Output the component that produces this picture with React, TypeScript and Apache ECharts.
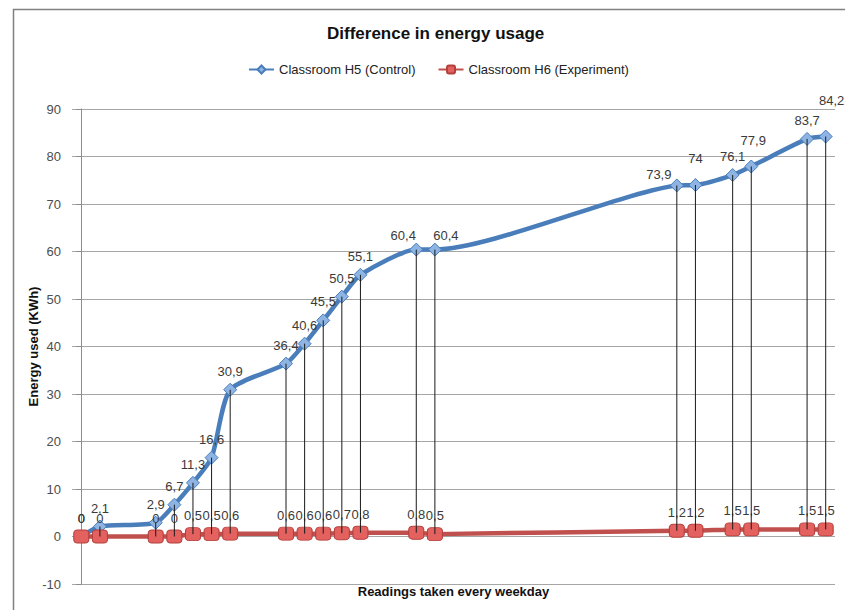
import React, { useEffect, useRef } from "react";
import * as echarts from "echarts";

// Day index of each reading (weekdays only, weekends skipped)
const readingDays = [0, 1, 4, 5, 6, 7, 8, 11, 12, 13, 14, 15, 18, 19, 32, 33, 35, 36, 39, 40];
const controlH5 = [0, 2.1, 2.9, 6.7, 11.3, 16.6, 30.9, 36.4, 40.6, 45.5, 50.5, 55.1, 60.4, 60.4, 73.9, 74, 76.1, 77.9, 83.7, 84.2];
const experimentH6 = [0, 0, 0, 0, 0.5, 0.5, 0.6, 0.6, 0.6, 0.6, 0.7, 0.8, 0.8, 0.5, 1.2, 1.2, 1.5, 1.5, 1.5, 1.5];
const seriesNames = ["Classroom H5 (Control)", "Classroom H6 (Experiment)"];
const yTicks = { min: -10, max: 90, interval: 10 };

const FONT = "'Liberation Sans', Arial, Helvetica, sans-serif";

// label nudges for a few crowded labels (style only)
const blueLabelOffsets: Record<number, number[]> = {
  12: [-13, 4],
  13: [11, 4],
  14: [-18, 8],
  15: [0, -8],
  17: [2, -7],
  19: [6, -18],
};

const fmt = (v: number) => String(v).replace(".", ",");

export default function App() {
  const ref = useRef<HTMLDivElement>(null);
  useEffect(() => {
    document.body.style.margin = "0";
    if (!ref.current) return;
    const chart = echarts.init(ref.current, undefined, { renderer: "svg" });

    const blueData = readingDays.map((d, i) => {
      const item: any = { value: [d, controlH5[i]] };
      if (blueLabelOffsets[i]) item.label = { offset: blueLabelOffsets[i] };
      return item;
    });
    const redData = readingDays.map((d, i) => [d, experimentH6[i]]);
    const dropData = readingDays.map((d, i) => [d, experimentH6[i], controlH5[i]]);

    const labelStyle = {
      show: true,
      position: "top",
      distance: 5,
      fontSize: 13,
      fontFamily: FONT,
      color: "#3a3a3a",
      formatter: (p: any) => fmt(Array.isArray(p.value) ? p.value[1] : p.value),
    };

    chart.setOption({
      animation: false,
      backgroundColor: "#ffffff",
      textStyle: { fontFamily: FONT },
      title: {
        text: "Difference in energy usage",
        left: 322,
        top: 20,
        textStyle: { fontSize: 17, fontWeight: "bold", color: "#111", fontFamily: FONT },
      },
      legend: {
        top: 58,
        left: 243,
        itemWidth: 25,
        itemHeight: 10,
        itemGap: 22,
        textStyle: { fontSize: 13, color: "#222", fontFamily: FONT },
        data: seriesNames,
      },
      grid: { left: 72, right: 10, top: 109, bottom: 26, containLabel: false },
      xAxis: {
        type: "value",
        min: -0.5,
        max: 40.5,
        name: "Readings taken every weekday",
        nameLocation: "middle",
        nameGap: 1,
        nameTextStyle: { fontSize: 13, fontWeight: "bold", color: "#111", fontFamily: FONT },
        axisLine: { show: false },
        axisTick: { show: false },
        axisLabel: { show: false },
        splitLine: { show: false },
      },
      yAxis: {
        type: "value",
        min: yTicks.min,
        max: yTicks.max,
        interval: yTicks.interval,
        name: "Energy used (KWh)",
        nameLocation: "middle",
        nameGap: 32,
        nameMoveOverlap: false,
        nameTextStyle: { fontSize: 13, fontWeight: "bold", color: "#111", fontFamily: FONT },
        axisLine: { show: true, lineStyle: { color: "#8c8c8c", width: 1 } },
        axisTick: { show: true, length: 5, lineStyle: { color: "#8c8c8c" } },
        axisLabel: { fontSize: 13, color: "#4d4d4d", margin: 11, fontFamily: FONT },
        splitLine: { show: true, lineStyle: { color: "#a6a6a6", width: 1 } },
      },
      graphic: [
        {
          type: "rect",
          left: 11,
          top: 7,
          shape: { width: 900, height: 700 },
          style: { fill: "none", stroke: "#808080", lineWidth: 1.5 },
          silent: true,
          z: -1,
        },
      ],
      series: [
        {
          name: seriesNames[0],
          type: "line",
          smooth: 0.22,
          data: blueData,
          symbol: "diamond",
          symbolSize: 13,
          lineStyle: { color: "#4a7ebb", width: 4.5 },
          itemStyle: { color: "#8db4e2", borderColor: "#4a7ebb", borderWidth: 1 },
          label: labelStyle,
          z: 2,
        },
        {
          name: seriesNames[1],
          type: "line",
          smooth: 0.22,
          data: redData,
          symbol: "roundRect",
          symbolSize: [15, 13],
          lineStyle: { color: "#c0504d", width: 4.5 },
          itemStyle: { color: "#e3615e", borderColor: "#b3403d", borderWidth: 1 },
          label: labelStyle,
          z: 3,
        },
        {
          type: "custom",
          name: "drop",
          data: dropData,
          encode: { x: 0, y: [1, 2] },
          silent: true,
          z: 4,
          renderItem: (params: any, api: any) => {
            const x = api.value(0);
            const p1 = api.coord([x, api.value(1)]);
            const p2 = api.coord([x, api.value(2)]);
            return {
              type: "line",
              shape: { x1: p1[0], y1: p1[1], x2: p2[0], y2: p2[1] },
              style: { stroke: "#1a1a1a", lineWidth: 1 },
            };
          },
        },
      ],
    });
    return () => chart.dispose();
  }, []);
  return <div ref={ref} style={{ width: 845, height: 610 }} />;
}
